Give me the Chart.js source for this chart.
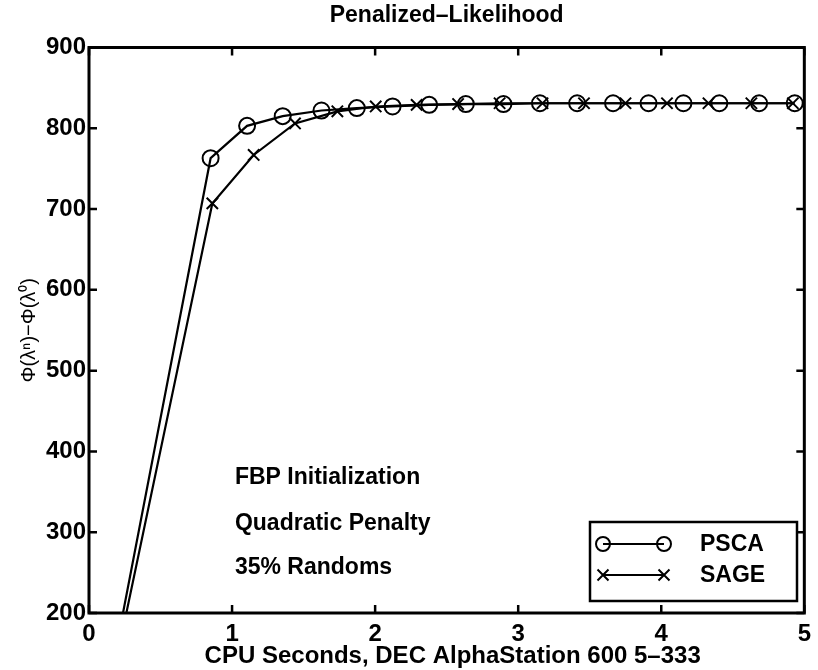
<!DOCTYPE html>
<html>
<head>
<meta charset="utf-8">
<script src="https://cdn.jsdelivr.net/npm/chart.js@4"></script>
<style>
  html, body { margin: 0; padding: 0; background: #fff; }
  #wrap { width: 818px; height: 670px; }
</style>
</head>
<body>
<div id="wrap"><canvas id="chart" width="818" height="670"></canvas></div>
<script>
// ── Dati ───────────────────────────────────────
const psX = [0.02, 0.85, 1.105, 1.354, 1.625, 1.872, 2.122, 2.378, 2.634, 2.897, 3.152, 3.412, 3.663, 3.911, 4.155, 4.406, 4.684, 4.933];
const psY = [0, 763, 803, 815, 822, 825, 827, 829, 830, 830, 831, 831, 831, 831, 831, 831, 831, 831];
const sgX = [0.024, 0.862, 1.151, 1.44, 1.736, 2.004, 2.29, 2.58, 2.87, 3.17, 3.46, 3.75, 4.04, 4.33, 4.63, 4.92];
const sgY = [0, 707, 767, 806, 821, 827, 829, 830, 831, 831, 831, 831, 831, 831, 831, 831];

const xTicks = [0, 1, 2, 3, 4, 5];
const yTicks = [200, 300, 400, 500, 600, 700, 800, 900];
const seriesNames = ['PSCA', 'SAGE'];
const notes = ['FBP Initialization', 'Quadratic Penalty', '35% Randoms'];
const noteY = [367, 311, 256];
const titleText = 'Penalized\u2013Likelihood';
const xTitle = 'CPU Seconds, DEC AlphaStation 600 5\u2013333';

const FONT = '"Liberation Sans", Arial, Helvetica, sans-serif';

// ── Titolo, box, tick interni, note e legenda ──
const matlabAxes = {
    id: 'matlabAxes',
    afterDatasetsDraw(chart) {
        const { ctx, chartArea: a, scales: { x, y } } = chart;
        ctx.save();
        ctx.fillStyle = '#000';
        ctx.strokeStyle = '#000';

        // titolo centrato sull'area del grafico
        ctx.font = 'bold 23px ' + FONT;
        ctx.textAlign = 'center';
        ctx.textBaseline = 'middle';
        ctx.fillText(titleText, (a.left + a.right) / 2, 16);

        ctx.lineWidth = 3;
        ctx.strokeRect(a.left, a.top, a.right - a.left, a.bottom - a.top);

        ctx.lineWidth = 2.5;
        ctx.beginPath();
        xTicks.forEach(v => {
            const px = x.getPixelForValue(v);
            ctx.moveTo(px, a.bottom); ctx.lineTo(px, a.bottom - 8);
            ctx.moveTo(px, a.top);    ctx.lineTo(px, a.top + 8);
        });
        yTicks.forEach(v => {
            const py = y.getPixelForValue(v);
            ctx.moveTo(a.left, py);  ctx.lineTo(a.left + 8, py);
            ctx.moveTo(a.right, py); ctx.lineTo(a.right - 8, py);
        });
        ctx.stroke();

        // note di testo
        ctx.font = 'bold 23px ' + FONT;
        ctx.textAlign = 'left';
        notes.forEach((t, i) => ctx.fillText(t, x.getPixelForValue(1.02), y.getPixelForValue(noteY[i])));

        // legenda stile MATLAB
        const bx = 590, bw = 207, by = 522, bh = 79;
        ctx.lineWidth = 2.5;
        ctx.strokeRect(bx, by, bw, bh);
        chart.data.datasets.forEach((ds, i) => {
            const ry = by + 22 + i * 31;
            const x0 = bx + 13, x1 = bx + 74;
            ctx.lineWidth = 2;
            ctx.beginPath(); ctx.moveTo(x0, ry); ctx.lineTo(x1, ry); ctx.stroke();
            [x0, x1].forEach(px => {
                ctx.beginPath();
                if (ds.pointStyle === 'circle') {
                    ctx.arc(px, ry, 7, 0, Math.PI * 2);
                } else {
                    ctx.moveTo(px - 5.5, ry - 5.5); ctx.lineTo(px + 5.5, ry + 5.5);
                    ctx.moveTo(px - 5.5, ry + 5.5); ctx.lineTo(px + 5.5, ry - 5.5);
                }
                ctx.stroke();
            });
            ctx.fillText(ds.label, bx + 110, ry + 1);
        });

        // etichetta asse x
        ctx.font = 'bold 24px ' + FONT;
        ctx.textAlign = 'center';
        ctx.fillText(xTitle, (a.left + a.right) / 2 + 6, 656);
        ctx.restore();
    }
};

const ctx = document.getElementById('chart').getContext('2d');
new Chart(ctx, {
    type: 'scatter',
    data: {
        datasets: [
            {
                label: seriesNames[0],
                data: psX.map((v, i) => ({ x: v, y: psY[i] })),
                showLine: true,
                borderColor: '#000', borderWidth: 2.2,
                pointStyle: 'circle', pointRadius: 8,
                pointBorderColor: '#000', pointBorderWidth: 2,
                pointBackgroundColor: 'rgba(0,0,0,0)'
            },
            {
                label: seriesNames[1],
                data: sgX.map((v, i) => ({ x: v, y: sgY[i] })),
                showLine: true,
                borderColor: '#000', borderWidth: 2.2,
                pointStyle: 'crossRot', pointRadius: 8,
                pointBorderColor: '#000', pointBorderWidth: 2,
                pointBackgroundColor: 'rgba(0,0,0,0)'
            }
        ]
    },
    options: {
        responsive: false,
        animation: false,
        layout: { padding: { left: 0, right: 8, top: 47.5, bottom: 0 } },
        plugins: {
            legend: { display: false },
            tooltip: { enabled: false },
            title: { display: false }
        },
        scales: {
            x: {
                type: 'linear', min: 0, max: 5,
                afterFit: s => { s.height = 57; },
                afterBuildTicks: s => { s.ticks = xTicks.map(v => ({ value: v })); },
                grid: { display: false, drawTicks: false },
                border: { display: false },
                ticks: { color: '#000', padding: 7, maxRotation: 0, font: { family: FONT, size: 24, weight: 'bold' } },
                title: { display: false }
            },
            y: {
                type: 'linear', min: 200, max: 900,
                afterFit: s => { s.width = 89; },
                afterBuildTicks: s => { s.ticks = yTicks.map(v => ({ value: v })); },
                grid: { display: false, drawTicks: false },
                border: { display: false },
                ticks: { color: '#000', padding: 3, font: { family: FONT, size: 24, weight: 'bold' } },
                title: {
                    display: true,
                    text: '\u03A6(\u03BB\u207F)\u2212\u03A6(\u03BB\u2070)',
                    color: '#000',
                    font: { family: FONT, size: 20, lineHeight: 1 },
                    padding: { top: 19, bottom: 0 }
                }
            }
        }
    },
    plugins: [matlabAxes]
});
</script>
</body>
</html>
